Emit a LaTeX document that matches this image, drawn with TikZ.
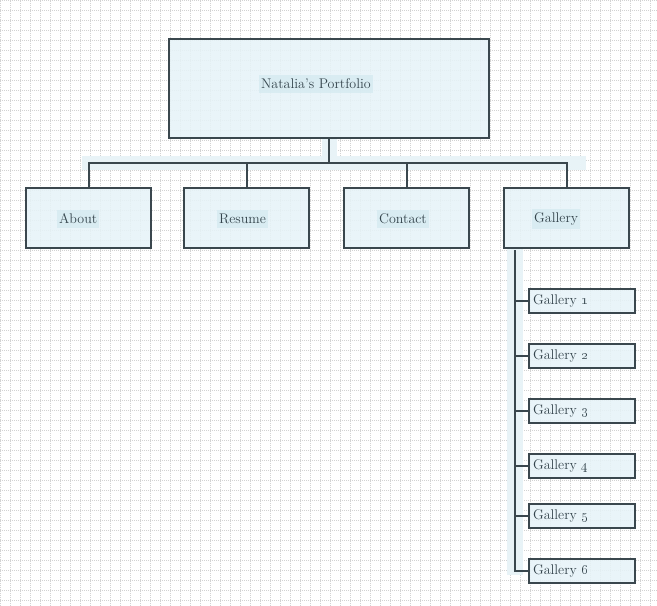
\documentclass[tikz,border=0pt]{standalone}
\usepackage{tikz}
\usetikzlibrary{positioning}
\definecolor{edge}{HTML}{3A474E}
\definecolor{boxfill}{HTML}{E6F3F8}
\definecolor{hilite}{HTML}{D5EAF1}
\definecolor{glowfill}{HTML}{E8F3F7}
\definecolor{ink}{HTML}{34444C}
\definecolor{gridcol}{HTML}{D2D2D2}
\tikzset{
	backgroundcolor/.style ={fill=white},
	gridline/.style={draw=gridcol, line width=0.6pt, dash pattern=on 1pt off 1pt},
	glow/.style={fill=glowfill, draw=none},
	pagebox/.style={
		draw=edge,
		line width=2pt,
		fill=boxfill,
		fill opacity=0.85,
		minimum width=125pt,
		minimum height=60pt,
		inner sep=0pt
	},
	subbox/.style={
		draw=edge,
		line width=2pt,
		fill=boxfill,
		fill opacity=0.85,
		text opacity=1,
		text=ink,
		anchor=west,
		text width=98pt,
		align=left,
		inner xsep=4pt,
		inner ysep=0pt,
		minimum height=24pt,
		font=\fontsize{14}{16}\selectfont
	},
	capt/.style={
		anchor=west,
		fill=hilite,
		fill opacity=0.8,
		text opacity=1,
		text=ink,
		inner xsep=2pt,
		inner ysep=4pt,
		font=\fontsize{14}{16}\selectfont
	},
	link/.style={draw=edge, line width=2pt},
}

\begin{document}
\begin{tikzpicture}[x=1pt, y=-1pt]
	\path[backgroundcolor] (0,0) rectangle (657,606);
	\useasboundingbox (0,0) rectangle (657,606);
	\draw[gridline] (0,0) grid[step=10pt] (657,606);

	% soft strips behind the connectors
	\path[glow] (322,138) rectangle (337,157);
	\path[glow] (82,156) rectangle (586,170);
	\path[glow] (507,248) rectangle (523,575);

	\node(home)[pagebox, minimum width=320pt, minimum height=99pt] at (329,88.5) {};
	\node(homelbl)[capt] at ([xshift=-70pt, yshift=4.5pt]home.center) {Natalia's Portfolio\hspace{14pt}};

	\node(about)[pagebox] at (88.5,218) {};
	\node(resume)[pagebox, right=31pt of about] {};
	\node(contact)[pagebox, right=33pt of resume] {};
	\node(gallery)[pagebox, right=33pt of contact] {};

	\node(aboutlbl)[capt] at ([xshift=32pt, yshift=-1pt]about.west) {About\hspace{14pt}};
	\node(resumelbl)[capt] at ([xshift=34pt, yshift=-1pt]resume.west) {Resume\hspace{12pt}};
	\node(contactlbl)[capt] at ([xshift=34pt, yshift=-1pt]contact.west) {Contact\hspace{20pt}};
	\node(gallerylbl)[capt] at ([xshift=29pt, yshift=-1pt]gallery.west) {Gallery\hspace{20pt}};

	% site map links
	\coordinate(bus) at ([yshift=-24pt]home.south);
	\draw[link] (home.south) -- (bus);
	\foreach \page in {about, resume, contact, gallery}
		\draw[link] (bus) -| (\page.north);

	% gallery pages
	\coordinate(trunk) at ([xshift=12pt, yshift=-1pt]gallery.south west);
	\foreach \i/\y in {1/301, 2/356, 3/411, 4/466, 5/516, 6/571} {
		\node(gal\i)[subbox] at (528,\y) {Gallery \oldstylenums{\i}};
		\draw[link] (trunk) |- (gal\i.west);
	}
\end{tikzpicture}
\end{document}
